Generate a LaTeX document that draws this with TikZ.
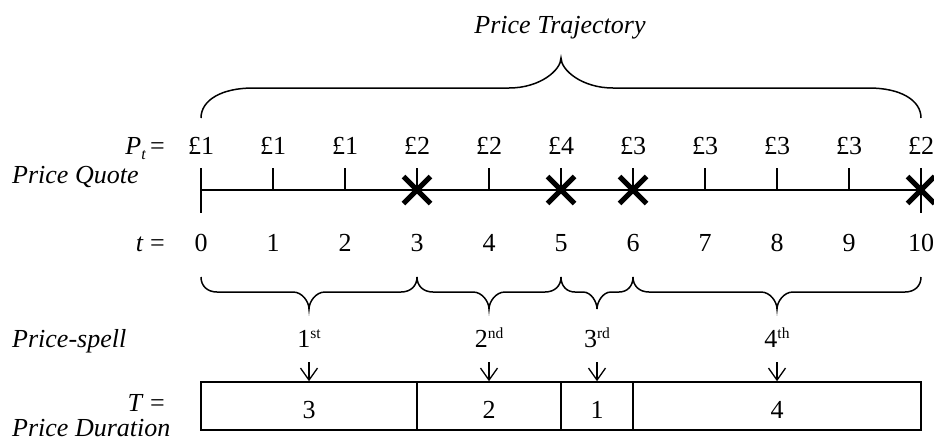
\documentclass[tikz,border=0pt]{standalone}
\usepackage{fontspec}
\setmainfont{Liberation Serif}
\usetikzlibrary{arrows.meta,shapes.misc}
\newcommand\pbrace[8]{% x0 x1 xm yend yline ytip wend wcusp
  \draw[bracestyle] (#1,#4) .. controls (#1,{#4+0.6*(#5-#4)}) and ({#1+0.4*#7},#5) .. ({#1+#7},#5)
  -- ({#3-#8},#5) .. controls ({#3-0.4*#8},#5) and (#3,{#5+0.6*(#6-#5)}) .. (#3,#6)
  .. controls (#3,{#5+0.6*(#6-#5)}) and ({#3+0.4*#8},#5) .. ({#3+#8},#5)
  -- ({#2-#7},#5) .. controls ({#2-0.4*#7},#5) and (#2,{#4+0.6*(#5-#4)}) .. (#2,#4);}
\newcommand\sups[1]{\raisebox{8.5pt}{\fontsize{15.5}{15.5}\selectfont #1}}
\begin{document}
\begin{tikzpicture}[x=1pt,y=-1pt,
  txt/.style={inner sep=0pt,font=\fontsize{26}{30}\selectfont},
  itxt/.style={txt,font=\fontsize{26}{30}\selectfont\itshape},
  axisline/.style={line width=1.6pt},
  tickline/.style={line width=1.6pt},
  xmark/.style={cross out,draw,line width=5pt,minimum size=22pt,inner sep=0pt},
  bracestyle/.style={line width=1.5pt},
  cell/.style={draw,line width=1.6pt,minimum height=48pt,inner sep=0pt,text height=24pt,text depth=0pt,font=\fontsize{26}{30}\selectfont},
  arr/.style={line width=1.3pt,-{Straight Barb[length=12pt,width=17pt,line width=1.3pt]}}]
\useasboundingbox (0,0) rectangle (934,440);
% title
\node[itxt,anchor=base] (title) at (560,33) {Price Trajectory};
% left labels
\node[txt,anchor=base east] (plab) at (165,154) {\textit{P}\raisebox{-5pt}{\fontsize{16}{16}\selectfont\itshape t}\,=};
\node[itxt,anchor=base west] (pq) at (12,183) {Price Quote};
\node[txt,anchor=base east] (tlab) at (165,251) {\textit{t} =};
\node[itxt,anchor=base west] (ps) at (12,347) {Price-spell};
\node[txt,anchor=base east] (Tlab) at (165,411) {\textit{T} =};
\node[itxt,anchor=base west] (pd) at (12,436) {Price Duration};
% timeline
\foreach \i/\p in {0/1,1/1,2/1,3/2,4/2,5/4,6/3,7/3,8/3,9/3,10/2}{
  \coordinate (c\i) at ({201+72*\i},190);
  \node[txt,anchor=base] (p\i) at ({201+72*\i},154) {£\p};
  \node[txt,anchor=base] (n\i) at ({201+72*\i},251) {\i};
  \draw[tickline] (c\i) -- ++(0,-22);
}
\draw[axisline] (c0) -- (c10);
\draw[tickline] (c0) -- ++(0,23);
\draw[tickline] (c10) -- ++(0,23);
\foreach \i in {3,5,6,10}{\node[xmark] (x\i) at (c\i) {};}
% top brace
\pbrace{201}{921}{561}{118}{88}{58}{52}{52}
% bottom braces
\pbrace{201}{417}{309}{277}{292}{309}{16}{16}
\pbrace{417}{561}{489}{277}{292}{309}{16}{16}
\pbrace{561}{633}{597}{277}{292}{309}{14}{14}
\pbrace{633}{921}{777}{277}{292}{309}{16}{16}
% spell labels
\node[txt,anchor=base] (s1) at (309,347) {1\sups{st}};
\node[txt,anchor=base] (s2) at (489,347) {2\sups{nd}};
\node[txt,anchor=base] (s3) at (597,347) {3\sups{rd}};
\node[txt,anchor=base] (s4) at (777,347) {4\sups{th}};
% duration cells
\node[cell,minimum width=216pt] (b1) at (309,406) {3};
\node[cell,minimum width=144pt] (b2) at (489,406) {2};
\node[cell,minimum width=72pt] (b3) at (597,406) {1};
\node[cell,minimum width=288pt] (b4) at (777,406) {4};
% arrows
\foreach \i/\x in {1/309,2/489,3/597,4/777}{
  \coordinate (a\i) at (\x,362);
  \draw[arr] (a\i) -- (b\i.north);
}
\end{tikzpicture}
\end{document}
